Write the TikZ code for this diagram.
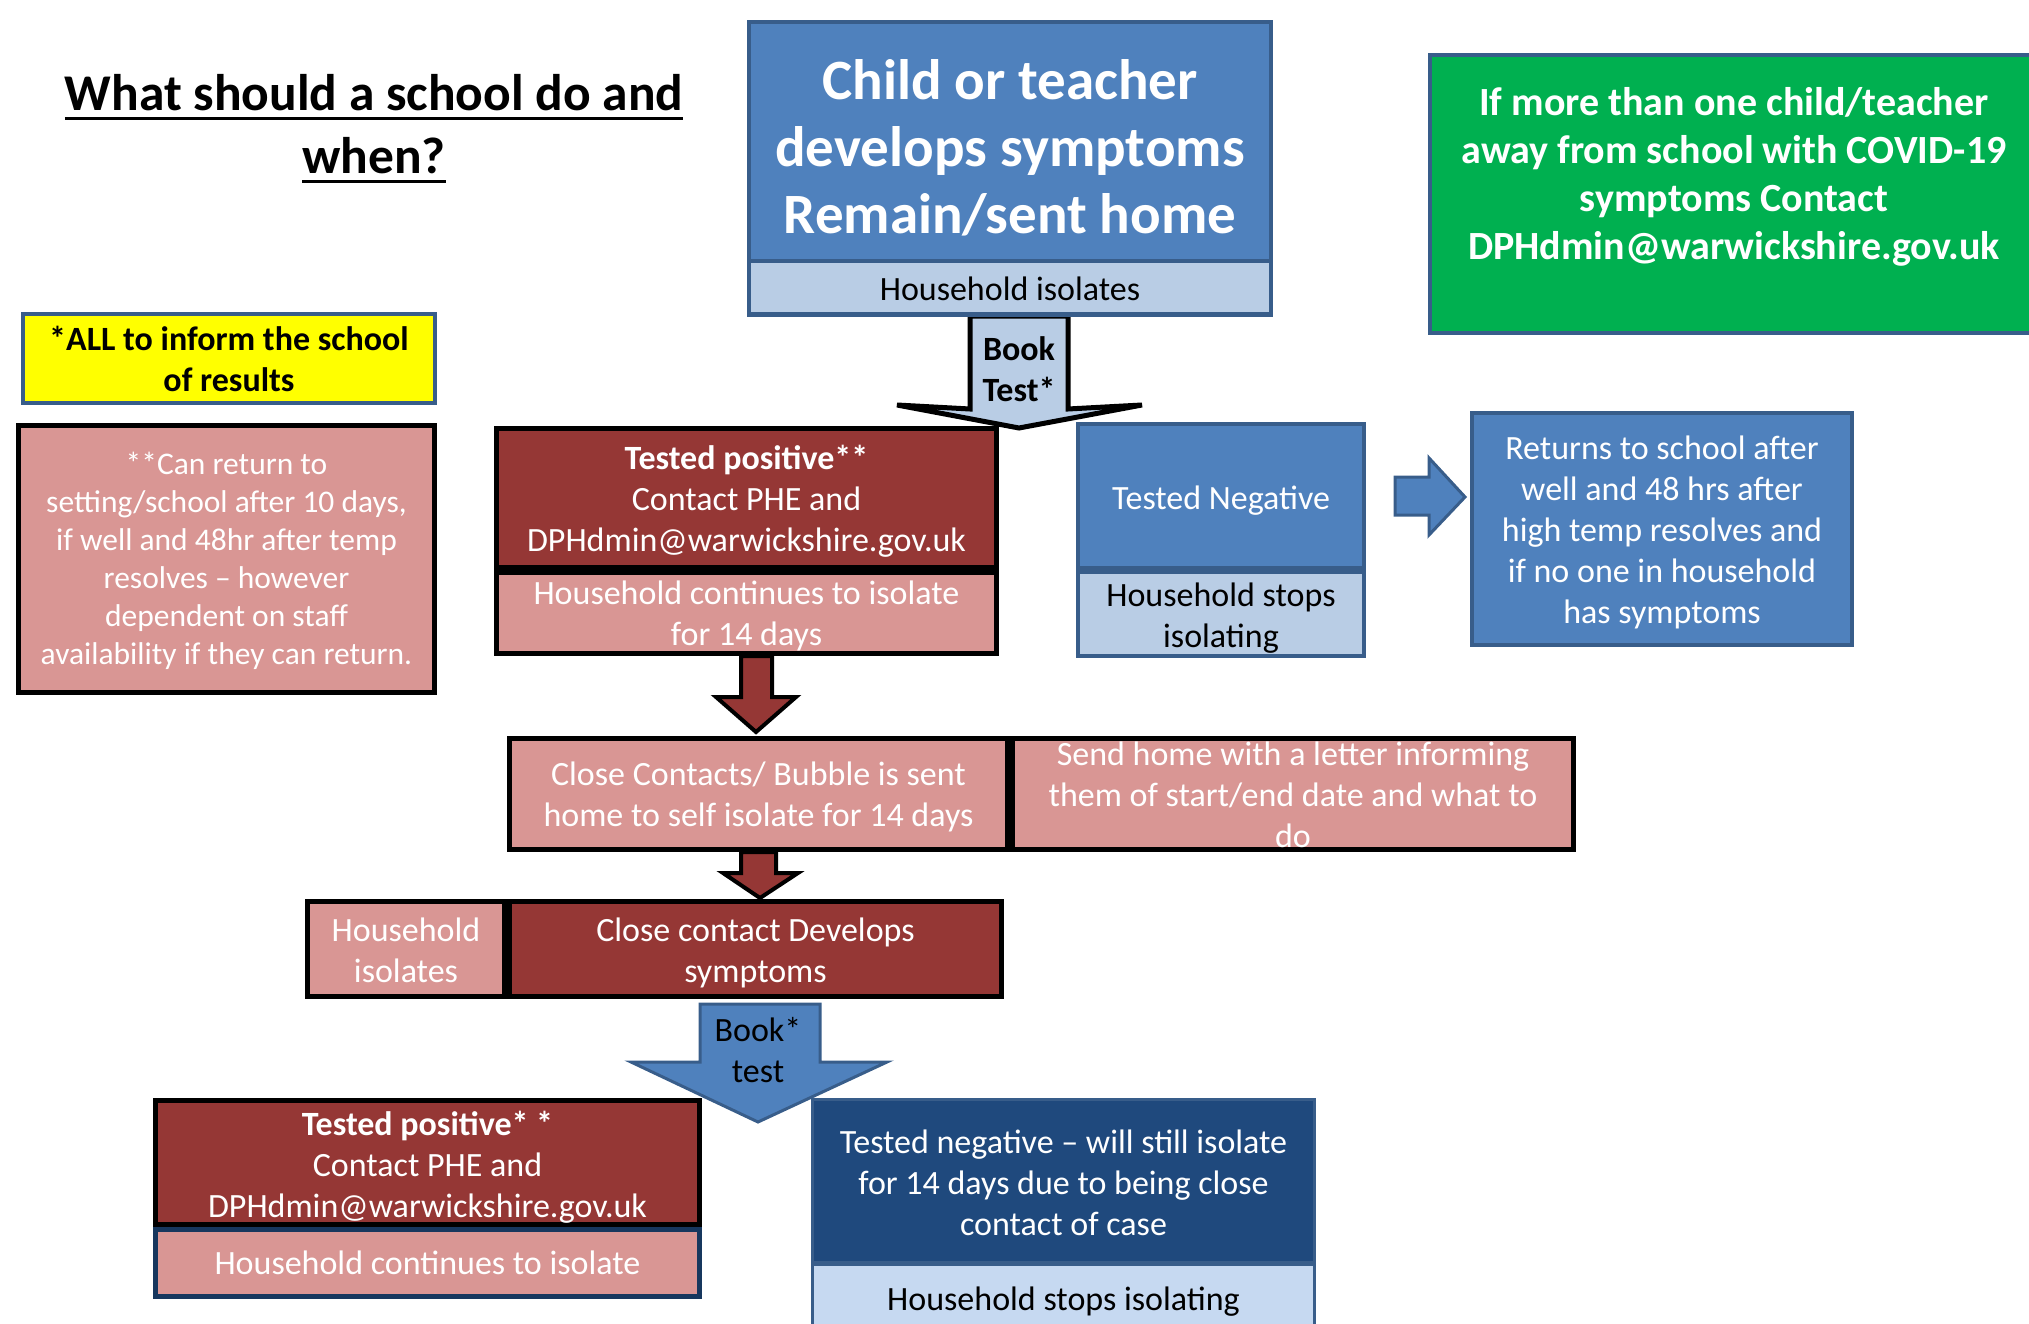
\documentclass[tikz,border=0pt]{standalone}
\usepackage{fontspec}
\setmainfont{Carlito}
\newcommand\fsz[2]{\fontsize{#1}{#2}\selectfont}
\newcommand\myuline[1]{\setbox0\hbox{#1}\rlap{\rule[-9.5pt]{\wd0}{3pt}}\box0}
\definecolor{medblue}{HTML}{4F81BD}
\definecolor{blueedge}{HTML}{385D8A}
\definecolor{lightblue}{HTML}{B9CDE5}
\definecolor{paleblue}{HTML}{C6D9F1}
\definecolor{greenc}{HTML}{00B050}
\definecolor{yellowc}{HTML}{FFFF00}
\definecolor{darkred}{HTML}{953735}
\definecolor{pinkc}{HTML}{D99694}
\definecolor{navy}{HTML}{1F497D}
\definecolor{navyedge}{HTML}{17375E}
\begin{document}
\begin{tikzpicture}[x=1pt,y=-1pt,
  bx/.style={rectangle, inner sep=0pt, outer sep=0pt, align=center, font=\fsz{34}{41}},
  redbox/.style={bx, fill=darkred, draw=black, line width=5pt, text=white},
  pinkbox/.style={bx, fill=pinkc, draw=black, line width=5pt, text=white},
  bluebox/.style={bx, fill=medblue, draw=blueedge, line width=4pt, text=white},
  lbluebox/.style={bx, fill=lightblue, draw=blueedge, line width=4pt, text=black},
  wtxt/.style={bx, text=white},
  ktxt/.style={bx, text=black},
  redarrow/.style={fill=darkred, draw=black, line width=4pt, line join=miter},
  bluearrow/.style={fill=medblue, draw=blueedge, line width=3pt, line join=miter},
  lbluearrow/.style={fill=lightblue, draw=black, line width=5pt, line join=miter},
]
\useasboundingbox (0,0) rectangle (2029,1324);

% ---- block arrows (drawn first) ----
\draw[lbluearrow] (970,316) -- (1068,316) -- (1068,409) -- (1142,405) -- (1019,428) -- (897,405) -- (970,409) -- cycle;
\draw[bluearrow] (1395,477) -- (1429,477) -- (1429,458) -- (1465,497) -- (1429,535) -- (1429,515) -- (1395,515) -- cycle;
\draw[redarrow] (741,656) -- (772,656) -- (772,697) -- (796,697) -- (756,732) -- (716,697) -- (741,697) -- cycle;
\draw[redarrow] (741,852) -- (776,852) -- (776,873) -- (798,873) -- (760,898) -- (723,873) -- (741,873) -- cycle;
\draw[bluearrow] (700,1004) -- (820,1004) -- (820,1062) -- (887,1062) -- (758,1122) -- (631,1062) -- (700,1062) -- cycle;

% ---- title ----
\node[bx, font=\bfseries\fsz{51.5}{63}] (title) at (374,129) {\myuline{What should a school do and}\\\myuline{when?}};

% ---- top ----
\node[bluebox, minimum width=522, minimum height=239] (top) at (1010,141.5) {};
\node[wtxt, font=\bfseries\fsz{57}{67}] (topT) at ([yshift=-6.5pt]top.center) {Child or teacher\\develops symptoms\\Remain/sent home};
\node[lbluebox, minimum width=522, minimum height=53] (topstrip) at (1010,288) {};
\node[ktxt] (topstripT) at ([yshift=-1pt]topstrip.center) {Household isolates};
\node[ktxt, font=\bfseries\fsz{34}{41}] (booktest) at (1019,369) {Book\\Test*};

% ---- green ----
\node[bx, fill=greenc, draw=blueedge, line width=4pt, minimum width=610, minimum height=278] (green) at (1735,194) {};
\node[wtxt, font=\bfseries\fsz{40}{48}] (greentxt) at (1734,176.5) {If more than one child/teacher\\away from school with COVID-19\\symptoms Contact\\DPHdmin@warwickshire.gov.uk};

% ---- yellow ----
\node[bx, fill=yellowc, draw=blueedge, line width=4pt, minimum width=412, minimum height=89, font=\bfseries\fsz{34}{41}] (yellow) at (229,358.5) {*ALL to inform the school\\of results};

% ---- left note ----
\node[pinkbox, minimum width=416, minimum height=267] (note) at (226.5,559) {};
\node[wtxt, font=\fsz{31.5}{38}] (noteT) at ([yshift=-2pt]note.center) {**Can return to\\setting/school after 10 days,\\if well and 48hr after temp\\resolves – however\\dependent on staff\\availability if they can return.};

% ---- tested positive 1 ----
\node[redbox, minimum width=500, minimum height=139] (pos1) at (746.5,498) {};
\node[wtxt] (pos1T) at ([yshift=-3pt]pos1.center) {\textbf{Tested positive**}\\Contact PHE and\\DPHdmin@warwickshire.gov.uk};
\node[pinkbox, minimum width=500, minimum height=81] (pos1b) at (746.5,613) {};
\node[wtxt] (pos1bT) at ([yshift=-3pt]pos1b.center) {Household continues to isolate\\for 14 days};

% ---- tested negative 1 ----
\node[bluebox, minimum width=286, minimum height=144] (neg1) at (1221,496) {};
\node[wtxt] (neg1T) at ([yshift=-5pt]neg1.center) {Tested Negative};
\node[lbluebox, minimum width=286, minimum height=84] (neg1b) at (1221,614) {};
\node[ktxt] (neg1bT) at ([yshift=-4pt]neg1b.center) {Household stops\\isolating};

% ---- returns ----
\node[bluebox, minimum width=380, minimum height=232] (ret) at (1662,529) {};
\node[wtxt] (retT) at ([yshift=-3pt]ret.center) {Returns to school after\\well and 48 hrs after\\high temp resolves and\\if no one in household\\has symptoms};

% ---- close contacts ----
\node[pinkbox, minimum width=498, minimum height=111] (close) at (758.5,794) {};
\node[wtxt] (closeT) at ([yshift=-2.5pt]close.center) {Close Contacts/ Bubble is sent\\home to self isolate for 14 days};
\node[pinkbox, minimum width=561, minimum height=111] (letter) at (1293,794) {};
\node[wtxt] (letterT) at ([yshift=-1pt]letter.center) {Send home with a letter informing\\them of start/end date and what to\\do};

% ---- close contact develops ----
\node[pinkbox, minimum width=197, minimum height=95] (hhiso) at (406,949) {};
\node[wtxt] (hhisoT) at ([yshift=-1.5pt]hhiso.center) {Household\\isolates};
\node[redbox, minimum width=492, minimum height=95] (ccdev) at (755.5,949) {};
\node[wtxt] (ccdevT) at ([yshift=-4pt]ccdev.center) {Close contact Develops\\symptoms};
\node[ktxt] (booktest2) at (758,1050) {Book*\\test};

% ---- tested positive 2 ----
\node[redbox, minimum width=544, minimum height=124] (pos2) at (427.5,1162.5) {};
\node[wtxt] (pos2T) at ([yshift=-4.5pt]pos2.center) {\textbf{Tested positive* *}\\Contact PHE and\\DPHdmin@warwickshire.gov.uk};
\node[pinkbox, draw=navyedge, minimum width=544, minimum height=67] (pos2b) at (427.5,1262.5) {Household continues to isolate};

% ---- tested negative 2 ----
\node[bx, fill=navy, draw=blueedge, line width=3pt, minimum width=502, minimum height=163] (neg2) at (1063.5,1181) {};
\node[wtxt] (neg2T) at ([yshift=-2pt]neg2.center) {Tested negative – will still isolate\\for 14 days due to being close\\contact of case};
\node[bx, fill=paleblue, draw=blueedge, line width=3pt, minimum width=502, minimum height=76] (neg2b) at (1063.5,1302) {Household stops isolating};
\end{tikzpicture}
\end{document}
